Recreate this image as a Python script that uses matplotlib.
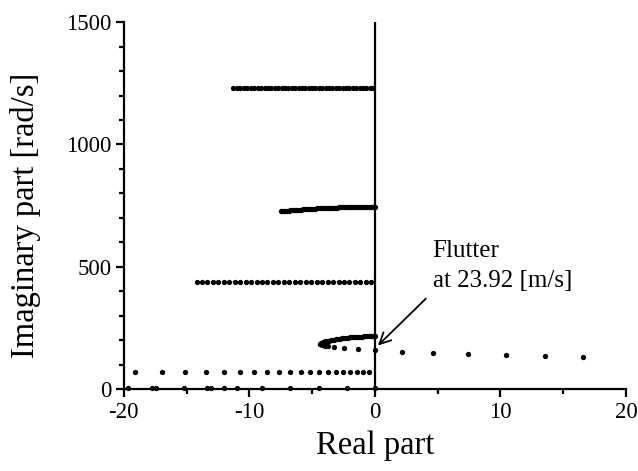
import matplotlib
matplotlib.use("Agg")
import matplotlib.pyplot as plt

plt.rcParams['font.family'] = ['Liberation Serif', 'DejaVu Serif']
plt.rcParams['axes.unicode_minus'] = False

# mode 1 (top, ~1230 rad/s)
re_m1 = [-11.3, -11.0, -10.72, -10.44, -10.16, -9.88, -9.6, -9.32, -9.05, -8.78, -8.51,
         -8.24, -7.97, -7.7, -7.43, -7.16, -6.89, -6.62, -6.35, -6.08, -5.81, -5.54,
         -5.27, -5.0, -4.73, -4.46, -4.19, -3.92, -3.65, -3.38, -3.11, -2.84, -2.57,
         -2.3, -2.03, -1.76, -1.49, -1.22, -0.95, -0.68, -0.42, -0.2]
im_m1 = [1231, 1231, 1231, 1231, 1231, 1231, 1231, 1231, 1231, 1231, 1231,
         1231, 1231, 1231, 1231, 1231, 1231, 1231, 1231, 1231, 1231, 1231,
         1231, 1231, 1231, 1231, 1231, 1231, 1231, 1231, 1231, 1231, 1231,
         1231, 1231, 1231, 1231, 1231, 1231, 1231, 1231, 1231]

# mode 2 (~745 rad/s), dense branch
re_m2 = [-7.5, -7.375, -7.25, -7.125, -7.0, -6.875, -6.75, -6.625, -6.5, -6.375,
         -6.25, -6.125, -6.0, -5.875, -5.75, -5.625, -5.5, -5.375, -5.25, -5.125,
         -5.0, -4.875, -4.75, -4.625, -4.5, -4.375, -4.25, -4.125, -4.0, -3.875,
         -3.75, -3.625, -3.5, -3.375, -3.25, -3.125, -3.0, -2.875, -2.75, -2.625,
         -2.5, -2.375, -2.25, -2.125, -2.0, -1.875, -1.75, -1.625, -1.5, -1.375,
         -1.25, -1.125, -1.0, -0.875, -0.75, -0.625, -0.5, -0.375, -0.25, -0.125, 0.0]
im_m2 = [727, 727.6, 728.2, 728.8, 729.3, 729.9, 730.4, 731.0, 731.5, 732.0,
         732.5, 733.0, 733.5, 734.0, 734.4, 734.9, 735.3, 735.8, 736.2, 736.6,
         737.0, 737.4, 737.8, 738.2, 738.5, 738.9, 739.2, 739.6, 739.9, 740.2,
         740.5, 740.8, 741.1, 741.4, 741.6, 741.9, 742.1, 742.4, 742.6, 742.8,
         743.0, 743.2, 743.4, 743.6, 743.7, 743.9, 744.0, 744.2, 744.3, 744.4,
         744.5, 744.6, 744.7, 744.8, 744.8, 744.9, 744.9, 745, 745, 745, 745]

# mode 3 (~437 rad/s)
re_m3 = [-14.2, -13.77, -13.33, -12.9, -12.46, -12.03, -11.59, -11.16, -10.72, -10.29,
         -9.85, -9.42, -8.98, -8.55, -8.11, -7.68, -7.24, -6.81, -6.37, -5.94, -5.5,
         -5.07, -4.63, -4.2, -3.76, -3.33, -2.89, -2.46, -2.02, -1.59, -1.15, -0.72, -0.3]
im_m3 = [437, 437, 437, 437, 437, 437, 437, 437, 437, 437,
         437, 437, 437, 437, 437, 437, 437, 437, 437, 437, 437,
         437, 437, 437, 437, 437, 437, 437, 437, 437, 437, 437, 437]

# mode 4 (flutter mode, ~216 -> 130 rad/s)
re_m4 = [0.0, -0.125, -0.25, -0.375, -0.5, -0.625, -0.75, -0.875, -1.0, -1.125,
         -1.25, -1.375, -1.5, -1.625, -1.75, -1.875, -2.0, -2.125, -2.25, -2.375,
         -2.5, -2.625, -2.75, -2.875, -3.0, -3.125, -3.25, -3.375, -3.5, -3.625,
         -3.75, -3.85, -3.95, -4.05, -4.15, -4.22, -4.3, -4.35, -4.33, -4.28,
         -4.22, -4.15, -4.05, -3.95, -3.85, -3.75,
         -3.28, -2.48, -1.37, 0.05, 2.16, 4.63, 7.41, 10.46, 13.56, 16.59]
im_m4 = [216, 216, 216, 215.8, 215.7, 215.5, 215.3, 215, 214.7, 214.4,
         214, 213.5, 213, 212.5, 212, 211.4, 210.8, 210.1, 209.4, 208.6,
         207.8, 206.9, 206, 205, 204, 203, 202, 200.8, 199.5, 198.3,
         197, 195.8, 194.5, 193, 191.5, 189.8, 188, 185, 183.8, 182.5,
         181.2, 180, 179, 178, 177.2, 176.5,
         173, 169, 163, 158, 152, 148, 144, 139, 135, 130]

# mode 5 (~68 rad/s)
re_m5 = [-19.13, -16.98, -15.10, -13.46, -12.05, -10.75, -9.61, -8.58, -7.62, -6.72,
         -5.90, -5.13, -4.42, -3.73, -3.09, -2.51, -1.95, -1.42, -0.91, -0.46]
im_m5 = [68, 68, 68, 68, 68, 68, 68, 68, 68, 68,
         68, 68, 68, 68, 68, 68, 68, 68, 68, 68]

# mode 6 (near zero)
re_m6 = [-19.7, -17.72, -17.46, -15.2, -13.35, -13.09, -12.03, -10.96, -8.97, -6.72,
         -4.47, -2.21, 0.0]
im_m6 = [4, 4, 4, 4, 4, 4, 4, 4, 4, 4, 4, 4, 4]

flutter_re = 0.05
flutter_im = 158

fig = plt.figure(figsize=(6.38, 4.71), dpi=100)
ax = fig.add_axes([0.194, 0.174, 0.787, 0.779])

ms = 3.8
for re, im in [(re_m1, im_m1), (re_m2, im_m2), (re_m3, im_m3),
               (re_m4, im_m4), (re_m5, im_m5), (re_m6, im_m6)]:
    ax.plot(re, im, 'o', color='black', markersize=ms, markeredgewidth=0,
            clip_on=False, zorder=2)

# imaginary axis line
ax.plot([0, 0], [0, 1500], color='black', linewidth=1.6, zorder=3)

ax.annotate('Flutter\nat 23.92 [m/s]', xy=(flutter_re + 0.2, flutter_im + 20),
            xytext=(4.6, 417), fontsize=18, ha='left', va='baseline',
            linespacing=1.45,
            arrowprops=dict(arrowstyle='->', color='black', lw=1.3,
                            relpos=(0, 0), shrinkA=4, shrinkB=0,
                            mutation_scale=20))

ax.set_xlim(-20, 20)
ax.set_ylim(0, 1500)
ax.set_xticks([-20, -10, 0, 10, 20])
ax.set_xticks([-15, -5, 5, 15], minor=True)
ax.set_yticks([0, 500, 1000, 1500])
ax.set_yticks([100, 200, 300, 400, 600, 700, 800, 900, 1100, 1200, 1300, 1400], minor=True)

for s in ['top', 'right']:
    ax.spines[s].set_visible(False)
for s in ['left', 'bottom']:
    ax.spines[s].set_linewidth(1.6)
    ax.spines[s].set_zorder(4)

ax.tick_params(which='major', direction='out', length=6, width=1.6, labelsize=16.5, pad=3)
ax.tick_params(which='minor', direction='out', length=3.5, width=1.6)

ax.set_xlabel('Real part', fontsize=23.5, labelpad=6)
ax.set_ylabel('Imaginary part [rad/s]', fontsize=23.5)
ax.yaxis.set_label_coords(-0.165, 0.474)

fig.savefig('out.png', dpi=100)
